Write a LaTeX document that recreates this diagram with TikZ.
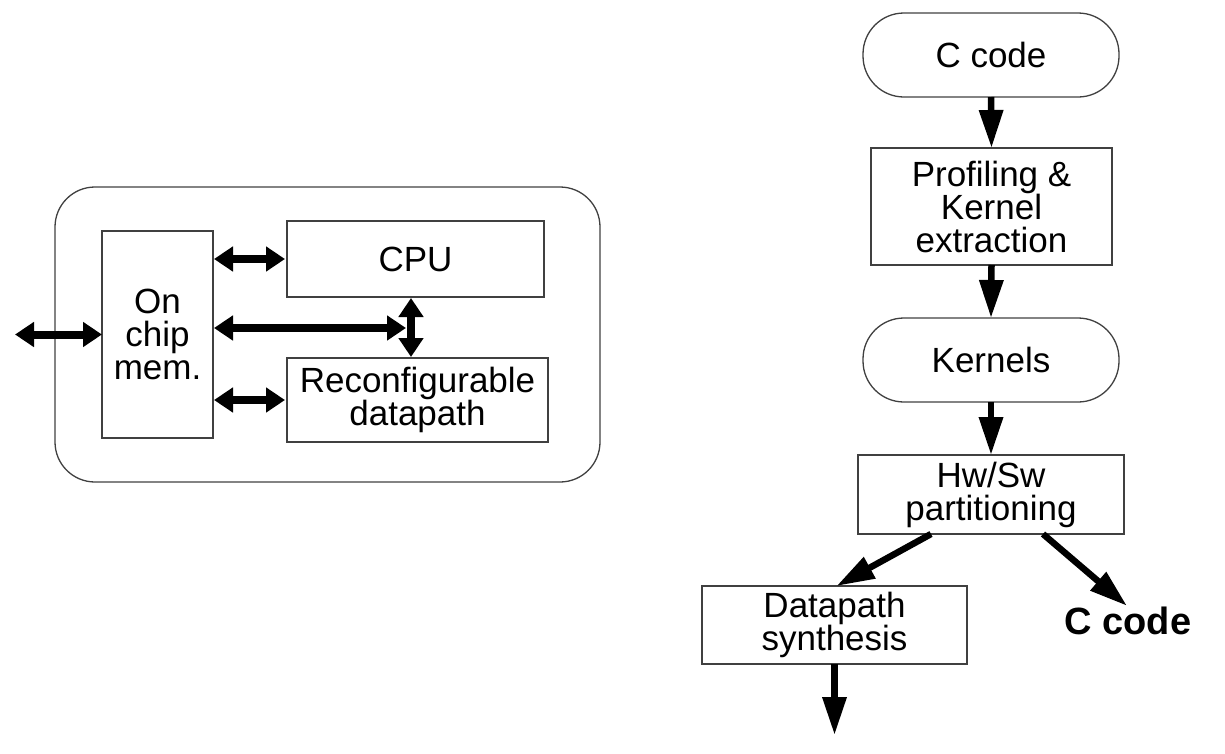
\documentclass[tikz,border=0pt]{standalone}
\usepackage{fontspec}
\setmainfont{Liberation Sans}
\usetikzlibrary{arrows.meta,calc}
\begin{document}
\begin{tikzpicture}[x=1pt,y=-1pt,
  txt/.style={font=\fontsize{35}{33}\selectfont, align=center},
  box/.style={txt, draw=black!75, line width=1.3pt, inner sep=0pt, outer sep=0pt},
  term/.style={box, rounded corners=41pt},
  dbl/.style={line width=8pt, {Triangle[length=19pt,width=24pt]}-{Triangle[length=19pt,width=24pt]}},
  flow/.style={line width=6.5pt, -{Triangle[length=38pt,width=23pt]}}
]
\useasboundingbox (0,0) rectangle (1225,753);
% left: architecture
\node[draw=black!75, line width=1.3pt, rounded corners=40pt, minimum width=545pt, minimum height=295pt, inner sep=0pt, outer sep=0pt] (chip) at (327.5,334.5) {};
\node[box, minimum width=111pt, minimum height=207pt] (mem) at (157.5,334.5) {On\\chip\\mem.};
\node[box, minimum width=257pt, minimum height=76pt] (cpu) at (415.5,259) {CPU};
\node[box, minimum width=261pt, minimum height=84pt] (rdp) at (417.5,400) {Reconfigurable\\datapath};
\coordinate (ext) at (15,334.5);
\coordinate (bus) at (411,328);
\draw[dbl] (ext) -- (mem.west);
\draw[dbl, shorten <=1pt, shorten >=2pt] (mem.east |- cpu.west) -- (cpu.west);
\draw[dbl, shorten <=1pt, shorten >=2pt] (mem.east |- rdp.west) -- (rdp.west);
\draw[dbl, shorten <=1pt, shorten >=5pt] (mem.east |- bus) -- (bus);
\draw[dbl, shorten <=1pt, shorten >=1pt] (cpu.south -| bus) -- (rdp.north -| bus);
% right: design flow
\node[term, minimum width=256pt, minimum height=84pt] (cin) at (991,55) {C code};
\node[box, minimum width=241pt, minimum height=117pt] (prof) at (991.5,206.5) {Profiling \&\\Kernel\\extraction};
\node[term, minimum width=256pt, minimum height=84pt] (kern) at (991,360) {Kernels};
\node[box, minimum width=266pt, minimum height=79pt] (hwsw) at (991,494.5) {Hw/Sw\\partitioning};
\node[box, minimum width=265pt, minimum height=78pt] (dps) at (834.5,625) {Datapath\\synthesis};
\node[font=\bfseries\fontsize{38}{40}\selectfont, inner sep=1pt] (cout) at (1128,621) {C code};
\coordinate (dpsout) at ([yshift=-71pt]dps.south);
\draw[flow] (cin.south) -- (prof.north);
\draw[flow] (prof.south) -- (kern.north);
\draw[flow] (kern.south) -- (hwsw.north);
\draw[flow] ([xshift=-60pt]hwsw.south) -- ([xshift=2pt]dps.north);
\draw[flow] ([xshift=52pt]hwsw.south) -- ([xshift=-1pt]cout.north);
\draw[flow] (dps.south) -- (dpsout);
\end{tikzpicture}
\end{document}
